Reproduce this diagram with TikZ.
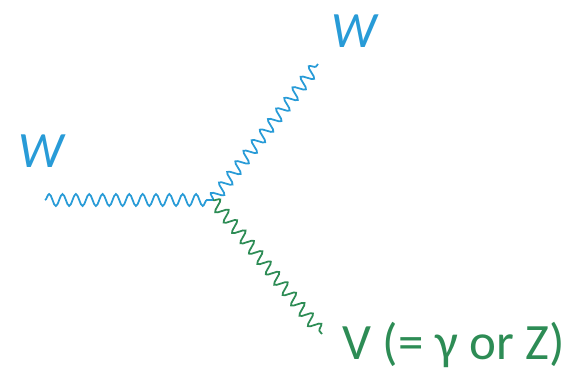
\documentclass[tikz,border=0pt]{standalone}
\usepackage{fontspec}
\setmainfont{Carlito}
\usepackage{tikz}
\usetikzlibrary{decorations.pathmorphing}
\definecolor{wblue}{RGB}{40,155,215}
\definecolor{vgreen}{RGB}{45,140,85}
\tikzset{
  boson/.style={line width=1pt, decorate,
    decoration={snake, amplitude=3.4pt, segment length=7.6pt}},
  lbl/.style={inner sep=0pt, font=\fontsize{29}{33}\selectfont},
}

\begin{document}
\begin{tikzpicture}[x=0.02cm,y=-0.02cm]
  \useasboundingbox (0,0) rectangle (575,370);
  \coordinate (vtx) at (213,200);
  \coordinate (win) at (45,200);
  \coordinate (wout) at (318,64);
  \coordinate (vout) at (322,334);
  \draw[boson, wblue] (win) -- (vtx);
  \draw[boson, wblue] (vtx) -- (wout);
  \draw[boson, vgreen] (vtx) -- (vout);
  \node[lbl, wblue] (wa) at (41,151) {\itshape W};
  \node[lbl, wblue] (wb) at (354,31) {\itshape W};
  \node[lbl, vgreen, anchor=west] (vlab) at (342,345) {V (= γ or Z)};
\end{tikzpicture}
\end{document}
